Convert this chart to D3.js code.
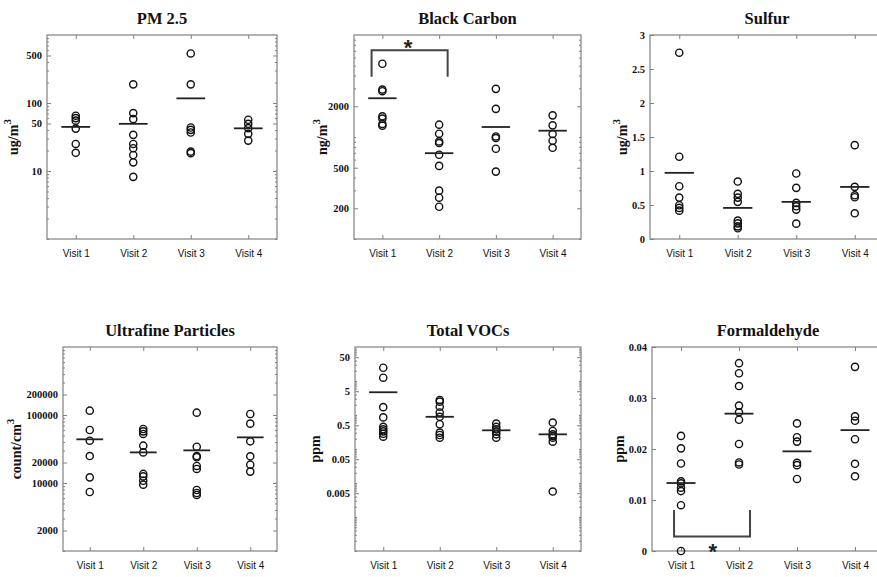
<!DOCTYPE html>
<html>
<head>
<meta charset="utf-8">
<script src="https://cdn.jsdelivr.net/npm/d3@7"></script>
<style>
  body { margin: 0; background: #fff; }
  .title { font-family: "Liberation Serif", serif; font-weight: bold; font-size: 16.5px; fill: #111; }
  .ylab { font-family: "Liberation Serif", serif; font-weight: bold; font-size: 14px; fill: #111; }
  .yaxis text { font-family: "Liberation Serif", serif; font-weight: bold; font-size: 10.5px; fill: #111; }
  .xaxis text { font-family: "Liberation Sans", sans-serif; font-size: 10px; fill: #111; }
</style>
</head>
<body>
<div class="chart"></div>
<script>
const visits = ['Visit 1', 'Visit 2', 'Visit 3', 'Visit 4'];

// values, one list per visit
const pm25 = [
  [65, 60, 55, 42, 25, 18.5],
  [188, 71, 58, 34, 25, 21.6, 17.2, 13.4, 8.2],
  [535, 188, 43.6, 40.3, 36.8, 19.3, 18.3],
  [56.7, 49.4, 42.7, 35.2, 28]
];
const pm25Mean = [44.5, 49.4, 117, 42.4];

const blackCarbon = [
  [5225, 2917, 2811, 1595, 1513, 1342, 1291],
  [1321, 1077, 905, 872, 670, 521, 298, 254, 207],
  [2965, 1888, 1013, 977, 767, 458],
  [1630, 1301, 1069, 919, 784]
];
const blackCarbonMean = [2398, 694, 1253, 1153];

const sulfur = [
  [2.74, 1.21, 0.776, 0.609, 0.496, 0.457, 0.417],
  [0.845, 0.664, 0.609, 0.546, 0.27, 0.23, 0.186, 0.157],
  [0.963, 0.752, 0.531, 0.481, 0.432, 0.226],
  [1.38, 0.767, 0.643, 0.614, 0.378]
];
const sulfurMean = [0.973, 0.457, 0.546, 0.766];

const ultrafine = [
  [115800, 60200, 41900, 24900, 12100, 7370],
  [62200, 57500, 52600, 35400, 28200, 13600, 12500, 10800, 9450],
  [108200, 34200, 24900, 23900, 17800, 16100, 7890, 7130, 6670],
  [103500, 74600, 41000, 24700, 18600, 14700]
];
const ultrafineMean = [43900, 28200, 30200, 46900];

const vocs = [
  [24.5, 12.5, 1.7, 0.85, 0.45, 0.38, 0.33, 0.28, 0.23],
  [2.76, 2.47, 1.75, 1.19, 0.885, 0.535, 0.303, 0.258, 0.215],
  [0.56, 0.446, 0.38, 0.324, 0.27, 0.215],
  [0.6, 0.34, 0.27, 0.241, 0.215, 0.164, 0.0056]
];
const vocsMean = [4.67, 0.885, 0.355, 0.27];

const formaldehyde = [
  [0.02257, 0.02013, 0.01716, 0.01366, 0.01327, 0.01241, 0.01175, 0.00898, 0],
  [0.03683, 0.03485, 0.03234, 0.02851, 0.02719, 0.02574, 0.02099, 0.01736, 0.01696],
  [0.02502, 0.02231, 0.02145, 0.01729, 0.01683, 0.01413],
  [0.03611, 0.0264, 0.02554, 0.02191, 0.0171, 0.01465]
];
const formaldehydeMean = [0.01333, 0.02693, 0.01954, 0.0237];

// tick labels
const pm25Ticks = [10, 50, 100, 500];
const bcTicks = [200, 500, 2000];
const sulfurTicks = [0, 0.5, 1, 1.5, 2, 2.5, 3];
const ufpTicks = [2000, 10000, 20000, 100000, 200000];
const vocTicks = [0.005, 0.05, 0.5, 5, 50];
const formTicks = [0, 0.01, 0.02, 0.03, 0.04];

// significance brackets: [x1, x2, yEnd, yBar], star [x, y]
const bcBracket = [0.81, 2.15, 3890, 7086];
const bcStar = [1.45, 8460];
const formBracket = [0.88, 2.19, 0.00805, 0.00284];
const formStar = [1.55, 0.001];

const panels = [
  { title: 'PM 2.5', unit: 'ug/m', sup: '3', log: true, domain: [1, 1000], ticks: pm25Ticks,
    data: pm25, means: pm25Mean, box: [47, 277, 35, 239], labOff: 29 },
  { title: 'Black Carbon', unit: 'ng/m', sup: '3', log: true, domain: [100, 10000], ticks: bcTicks,
    data: blackCarbon, means: blackCarbonMean, box: [354, 581, 35, 239], labOff: 27,
    bracket: bcBracket, star: bcStar },
  { title: 'Sulfur', unit: 'ug/m', sup: '3', log: false, domain: [0, 3], ticks: sulfurTicks,
    data: sulfur, means: sulfurMean, box: [650, 884, 35, 239], labOff: 23 },
  { title: 'Ultrafine Particles', unit: 'count/cm', sup: '3', log: true, domain: [1000, 1000000], ticks: ufpTicks,
    data: ultrafine, means: ultrafineMean, box: [63, 277, 347, 551], labOff: 42 },
  { title: 'Total VOCs', unit: 'ppm', sup: '', log: true, domain: [0.0001, 100], ticks: vocTicks,
    data: vocs, means: vocsMean, box: [355, 581, 347, 551], labOff: 35 },
  { title: 'Formaldehyde', unit: 'ppm', sup: '', log: false, domain: [0, 0.04], ticks: formTicks,
    data: formaldehyde, means: formaldehydeMean, box: [652, 884, 347, 551], labOff: 28,
    bracket: formBracket, star: formStar }
];

const svg = d3.select('.chart').append('svg')
  .attr('width', 877)
  .attr('height', 577);

const frameColor = '#808080';

panels.forEach(p => {
  const [left, right, top, bottom] = p.box;
  const g = svg.append('g');

  const x = d3.scaleLinear().domain([0.5, 4.5]).range([left, right]);
  const y = (p.log ? d3.scaleLog() : d3.scaleLinear()).domain(p.domain).range([bottom, top]);

  // minor ticks for log axes
  if (p.log) {
    const minor = [];
    const lo = Math.log10(p.domain[0]), hi = Math.log10(p.domain[1]);
    for (let e = lo; e < hi; e++) {
      for (let m = 1; m < 10; m++) {
        const v = m * Math.pow(10, e);
        if (!p.ticks.some(t => Math.abs(t - v) / v < 1e-6)) minor.push(v);
      }
    }
    g.append('g').attr('transform', `translate(${left},0)`)
      .call(d3.axisLeft(y).tickValues(minor).tickSize(-2).tickFormat(''))
      .call(a => a.select('.domain').remove())
      .selectAll('line').attr('stroke', frameColor);
    g.append('g').attr('transform', `translate(${right},0)`)
      .call(d3.axisRight(y).tickValues(minor).tickSize(-2).tickFormat(''))
      .call(a => a.select('.domain').remove())
      .selectAll('line').attr('stroke', frameColor);
  }

  // y axis with labels
  g.append('g').attr('class', 'yaxis').attr('transform', `translate(${left},0)`)
    .call(d3.axisLeft(y).tickValues(p.ticks).tickSize(-4).tickPadding(5).tickFormat(d => String(+d.toPrecision(6))))
    .call(a => a.select('.domain').remove())
    .selectAll('line').attr('stroke', frameColor);
  g.append('g').attr('transform', `translate(${right},0)`)
    .call(d3.axisRight(y).tickValues(p.ticks).tickSize(-4).tickFormat(''))
    .call(a => a.select('.domain').remove())
    .selectAll('line').attr('stroke', frameColor);

  // x axis
  g.append('g').attr('class', 'xaxis').attr('transform', `translate(0,${bottom})`)
    .call(d3.axisBottom(x).tickValues([1, 2, 3, 4]).tickSize(-4).tickPadding(11).tickFormat(d => visits[d - 1]))
    .call(a => a.select('.domain').remove())
    .selectAll('line').attr('stroke', frameColor);
  g.append('g').attr('transform', `translate(0,${top})`)
    .call(d3.axisTop(x).tickValues([1, 2, 3, 4]).tickSize(-4).tickFormat(''))
    .call(a => a.select('.domain').remove())
    .selectAll('line').attr('stroke', frameColor);

  // frame
  g.append('rect')
    .attr('x', left).attr('y', top)
    .attr('width', right - left).attr('height', bottom - top)
    .attr('fill', 'none')
    .attr('stroke', frameColor)
    .attr('stroke-width', 1.2);

  // title
  g.append('text').attr('class', 'title')
    .attr('x', (left + right) / 2).attr('y', top - 11)
    .attr('text-anchor', 'middle')
    .text(p.title);

  // y label
  const lab = g.append('text').attr('class', 'ylab')
    .attr('transform', `translate(${left - p.labOff},${(top + bottom) / 2}) rotate(-90)`)
    .attr('text-anchor', 'middle')
    .text(p.unit);
  if (p.sup) {
    lab.append('tspan').attr('dy', -7).attr('font-size', 11).text(p.sup);
  }

  // points
  p.data.forEach((vals, i) => {
    g.selectAll(null)
      .data(vals)
      .enter()
      .append('circle')
      .attr('cx', x(i + 1))
      .attr('cy', d => y(p.log ? Math.max(d, p.domain[0]) : d))
      .attr('r', 3.6)
      .attr('fill', 'none')
      .attr('stroke', '#111')
      .attr('stroke-width', 1.4);
  });

  // mean lines
  g.selectAll(null)
    .data(p.means)
    .enter()
    .append('line')
    .attr('x1', (d, i) => x(i + 1 - 0.25))
    .attr('x2', (d, i) => x(i + 1 + 0.25))
    .attr('y1', d => y(d))
    .attr('y2', d => y(d))
    .attr('stroke', '#222')
    .attr('stroke-width', 1.8);

  // significance bracket
  if (p.bracket) {
    const [x1, x2, yEnd, yBar] = p.bracket;
    g.append('path')
      .attr('d', d3.line()([[x(x1), y(yEnd)], [x(x1), y(yBar)], [x(x2), y(yBar)], [x(x2), y(yEnd)]]))
      .attr('fill', 'none')
      .attr('stroke', '#444')
      .attr('stroke-width', 2);
    g.append('text')
      .attr('x', x(p.star[0]))
      .attr('y', y(p.star[1]) + 13)
      .attr('text-anchor', 'middle')
      .attr('font-family', 'Liberation Sans, sans-serif')
      .attr('font-weight', 'bold')
      .attr('font-size', 22)
      .attr('fill', '#222')
      .text('*');
  }
});
</script>
</body>
</html>
